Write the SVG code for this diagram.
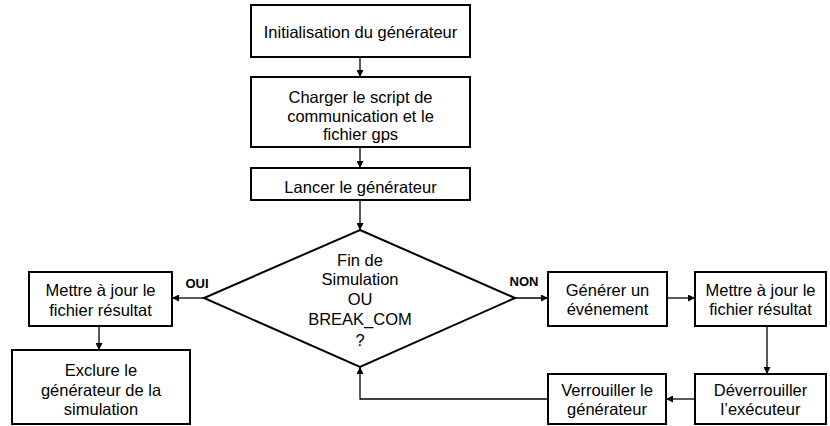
<svg xmlns="http://www.w3.org/2000/svg" width="830" height="426" viewBox="0 0 830 426">
<style>
.box{fill:#fff;stroke:#000;stroke-width:2}
.t{font-family:"Liberation Sans",Arial,sans-serif;font-size:16.5px;fill:#000;text-anchor:middle}
.lb{font-family:"Liberation Sans",Arial,sans-serif;font-size:13px;font-weight:bold;fill:#000;text-anchor:middle}
.c{fill:none;stroke:#000;stroke-width:1.3}
</style>
<defs>
<marker id="ah" viewBox="0 0 10 10" refX="10" refY="5" markerWidth="7" markerHeight="7" markerUnits="userSpaceOnUse" orient="auto">
<path d="M0,0 L10,5 L0,10 Z" fill="#000"/>
</marker>
</defs>
<rect width="830" height="426" fill="#fff"/>
<g id="connectors">
<line class="c" x1="360" y1="57" x2="360" y2="77" marker-end="url(#ah)"/>
<line class="c" x1="360" y1="147" x2="360" y2="168" marker-end="url(#ah)"/>
<line class="c" x1="360" y1="200" x2="360" y2="230" marker-end="url(#ah)"/>
<line class="c" x1="515" y1="298" x2="548" y2="298" marker-end="url(#ah)"/>
<line class="c" x1="667" y1="298" x2="695" y2="298" marker-end="url(#ah)"/>
<line class="c" x1="767" y1="326" x2="767" y2="374" marker-end="url(#ah)"/>
<line class="c" x1="695" y1="399" x2="666" y2="399" marker-end="url(#ah)"/>
<polyline class="c" points="548,399 360,399 360,367" marker-end="url(#ah)"/>
<line class="c" x1="204" y1="298" x2="172" y2="298" marker-end="url(#ah)"/>
<line class="c" x1="99" y1="326" x2="99" y2="350" marker-end="url(#ah)"/>
<text class="lb" x="197" y="288">OUI</text>
<text class="lb" x="524" y="286">NON</text>
</g>
<g id="n1">
<rect class="box" x="251" y="5" width="219" height="52"/>
<text class="t" x="360.5" y="38">Initialisation du générateur</text>
</g>
<g id="n2">
<rect class="box" x="251" y="77" width="219" height="70"/>
<text class="t" x="360.5" y="103">Charger le script de</text>
<text class="t" x="360.5" y="121.5">communication et le</text>
<text class="t" x="360.5" y="140">fichier gps</text>
</g>
<g id="n3">
<rect class="box" x="251" y="168" width="219" height="32"/>
<text class="t" x="360.5" y="193">Lancer le générateur</text>
</g>
<g id="n4">
<polygon class="box" points="360,230 515,298 360,367 204,298"/>
<text class="t" x="360" y="266">Fin de</text>
<text class="t" x="360" y="285">Simulation</text>
<text class="t" x="360" y="305">OU</text>
<text class="t" x="360" y="325">BREAK_COM</text>
<text class="t" x="360" y="346">?</text>
</g>
<g id="n5">
<rect class="box" x="548" y="272" width="119" height="54"/>
<text class="t" x="607.5" y="296">Générer un</text>
<text class="t" x="607.5" y="315">événement</text>
</g>
<g id="n6">
<rect class="box" x="695" y="272" width="131" height="54"/>
<text class="t" x="760.5" y="296">Mettre à jour le</text>
<text class="t" x="760.5" y="315">fichier résultat</text>
</g>
<g id="n7">
<rect class="box" x="695" y="374" width="131" height="50"/>
<text class="t" x="760.5" y="396">Déverrouiller</text>
<text class="t" x="760.5" y="415">l’exécuteur</text>
</g>
<g id="n8">
<rect class="box" x="548" y="374" width="118" height="50"/>
<text class="t" x="607" y="396">Verrouiller le</text>
<text class="t" x="607" y="415">générateur</text>
</g>
<g id="n9">
<rect class="box" x="29" y="272" width="143" height="54"/>
<text class="t" x="100.5" y="296">Mettre à jour le</text>
<text class="t" x="100.5" y="316">fichier résultat</text>
</g>
<g id="n10">
<rect class="box" x="12" y="350" width="178" height="74"/>
<text class="t" x="101" y="376">Exclure le</text>
<text class="t" x="101" y="396">générateur de la</text>
<text class="t" x="101" y="415">simulation</text>
</g>
</svg>
